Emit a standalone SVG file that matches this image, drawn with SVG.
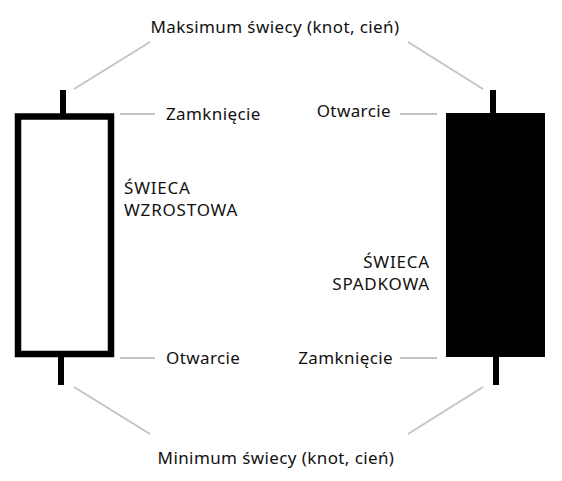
<svg xmlns="http://www.w3.org/2000/svg" width="562" height="481" viewBox="0 0 562 481">
<style>
.t{font-family:"Noto Sans","Open Sans","DejaVu Sans",sans-serif;font-size:17px;letter-spacing:0.4px;fill:#111}
.u{letter-spacing:0.8px}
.c{stroke:#c4c4c4;stroke-width:2;fill:none}
.k{fill:#000}
</style>
<rect width="562" height="481" fill="#fff"/>
<g id="connectors">
<line class="c" x1="150" y1="42" x2="74" y2="89"/>
<line class="c" x1="408" y1="42" x2="483" y2="89"/>
<line class="c" x1="74" y1="387" x2="150" y2="434"/>
<line class="c" x1="483" y1="387" x2="408" y2="434"/>
<line class="c" x1="120" y1="114" x2="155" y2="114"/>
<line class="c" x1="400" y1="114" x2="437" y2="114"/>
<line class="c" x1="120" y1="358" x2="155" y2="358"/>
<line class="c" x1="400" y1="358" x2="437" y2="358"/>
</g>
<g id="bullish">
<rect x="60" y="90" width="6" height="24" class="k"/>
<rect x="58" y="356" width="6" height="29" class="k"/>
<rect x="18" y="116.5" width="93" height="237.5" fill="#fff" stroke="#000" stroke-width="6.5"/>
</g>
<g id="bearish">
<rect x="490" y="90" width="6" height="24" class="k"/>
<rect x="493" y="356" width="6" height="29" class="k"/>
<rect x="446" y="113" width="99" height="244" class="k"/>
</g>
<g id="label-max"><text class="t" x="275" y="33" text-anchor="middle">Maksimum świecy (knot, cień)</text></g>
<g id="label-min"><text class="t" x="276" y="464" text-anchor="middle">Minimum świecy (knot, cień)</text></g>
<g id="label-close-up"><text class="t" x="166" y="120">Zamknięcie</text></g>
<g id="label-open-down"><text class="t" x="391" y="117" text-anchor="end">Otwarcie</text></g>
<g id="label-open-up"><text class="t" x="166" y="364">Otwarcie</text></g>
<g id="label-close-down"><text class="t" x="393" y="364" text-anchor="end">Zamknięcie</text></g>
<g id="label-bull"><text class="t u" x="124" y="194">ŚWIECA</text><text class="t u" x="124" y="216">WZROSTOWA</text></g>
<g id="label-bear"><text class="t u" x="430" y="268" text-anchor="end">ŚWIECA</text><text class="t u" x="430" y="290" text-anchor="end">SPADKOWA</text></g>
</svg>
